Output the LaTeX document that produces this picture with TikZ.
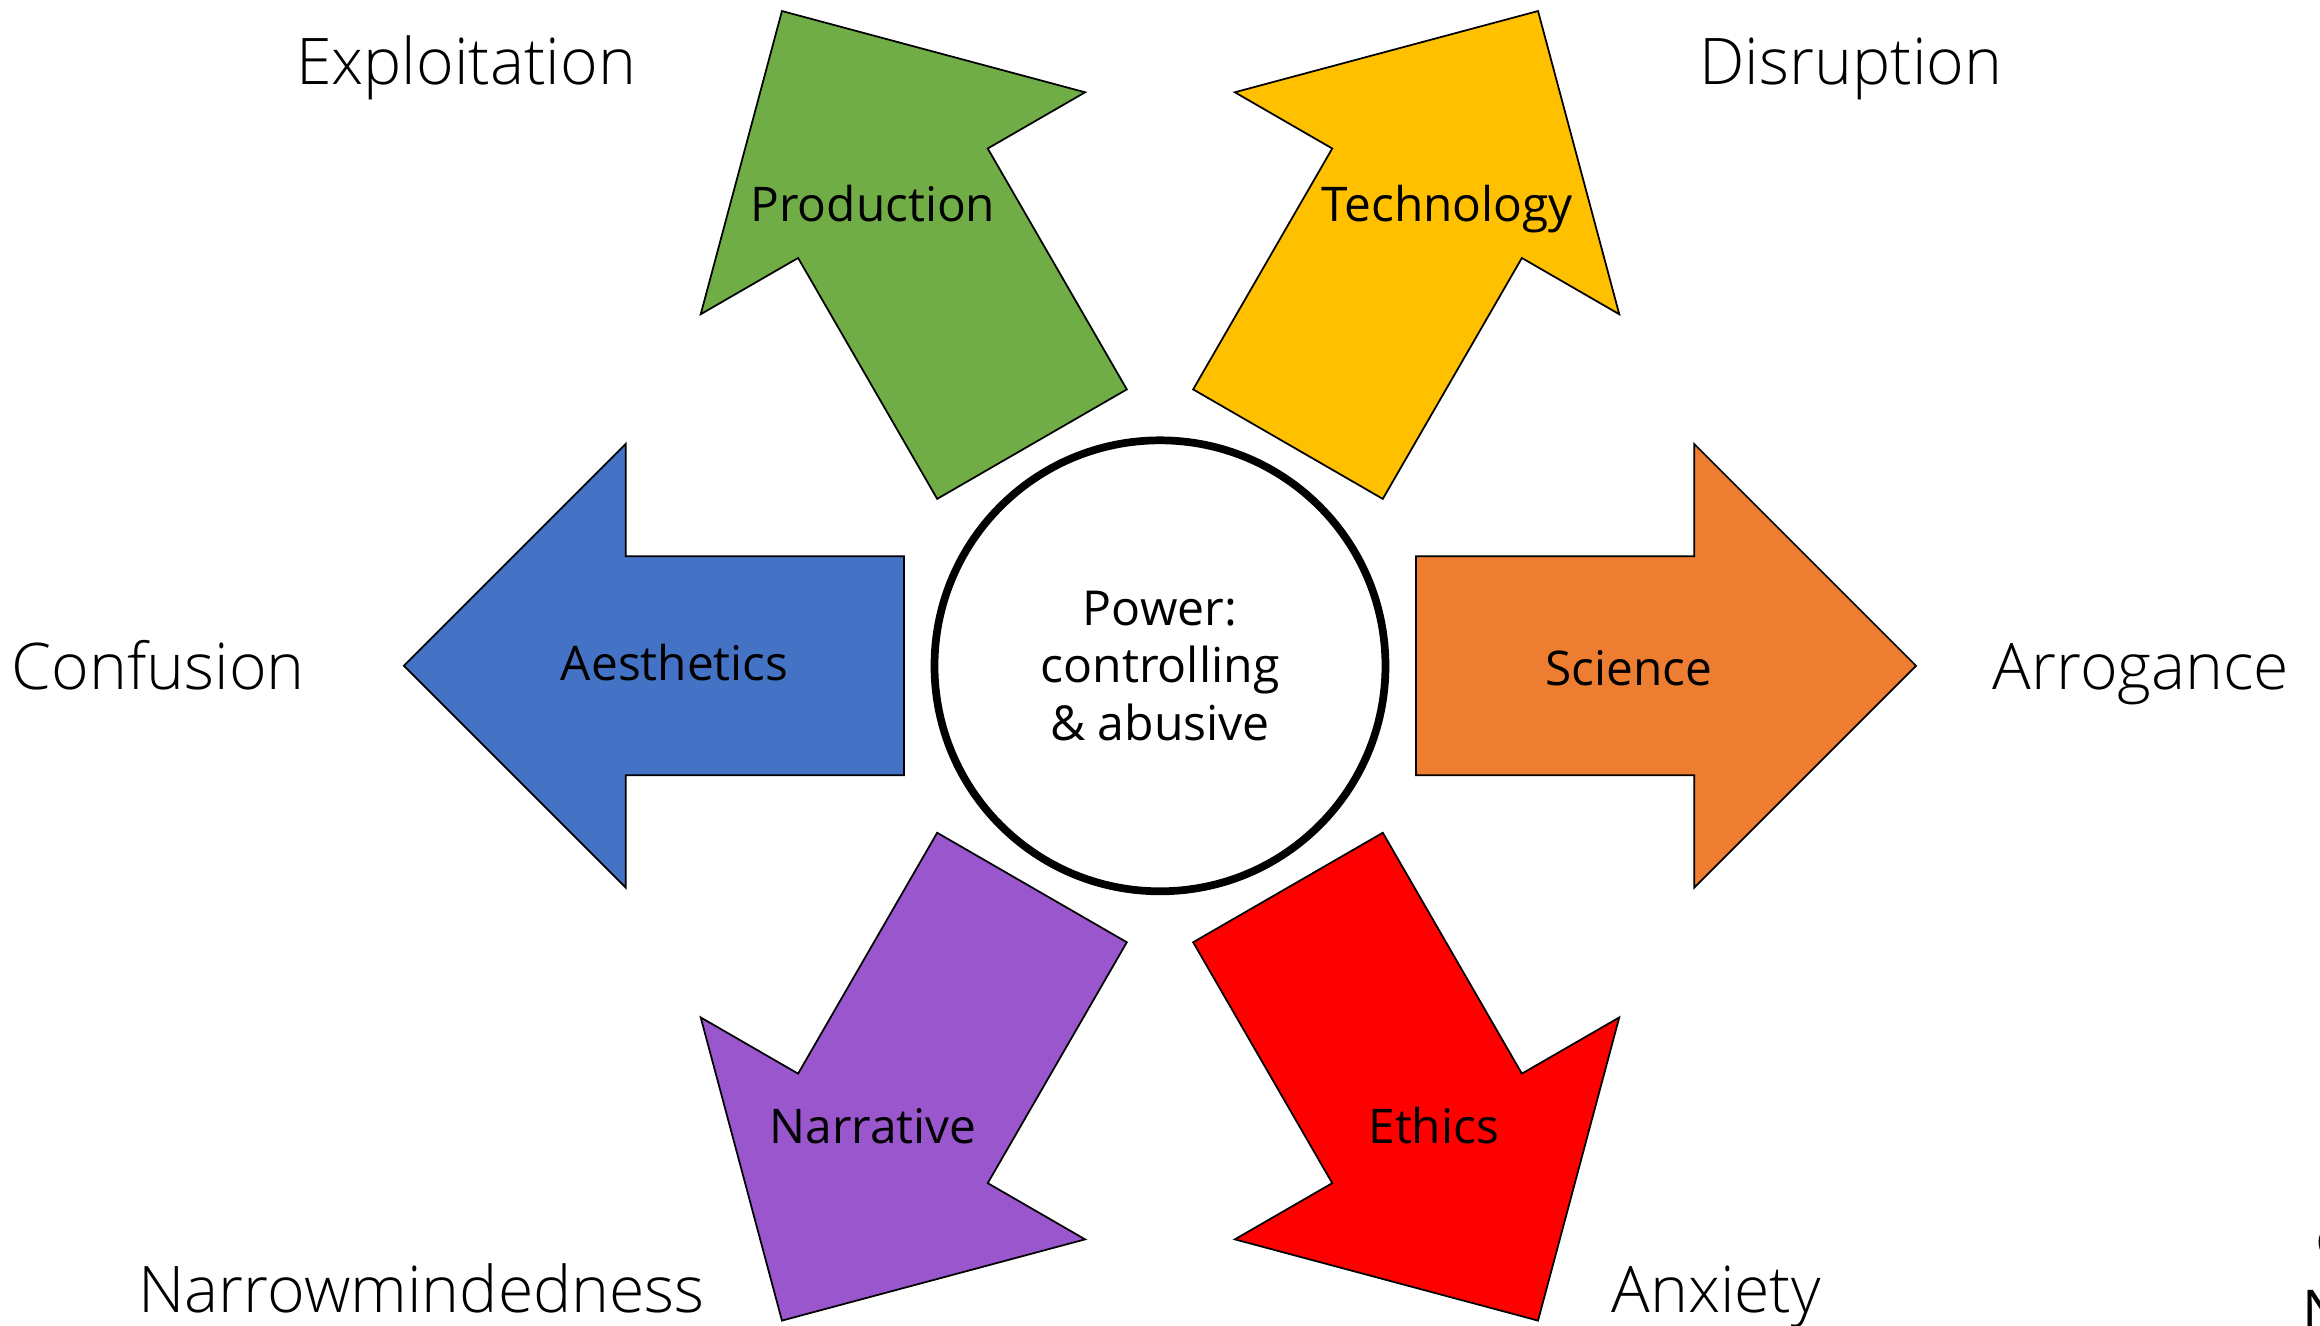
\documentclass[tikz,border=0pt]{standalone}
\usepackage{fontspec}
\setmainfont{Open Sans}
\newfontfamily\lightfont{Open Sans Light}
\usetikzlibrary{positioning}

\definecolor{sci-orange}{HTML}{ED7D31}
\definecolor{tech-gold}{HTML}{FFC000}
\definecolor{prod-green}{HTML}{70AD47}
\definecolor{aes-blue}{HTML}{4472C4}
\definecolor{narr-purple}{HTML}{9A57CD}
\definecolor{eth-red}{HTML}{FF0000}

\tikzset{
	big-arrow/.style={draw=black,line width=0.5pt,line join=miter},
	arrow-text/.style={font=\fontsize{13.6}{16.4}\selectfont,inner sep=0pt,anchor=base},
	outer-text/.style={font=\lightfont\fontsize{18.3}{22}\selectfont,inner sep=0pt,anchor=base},
}

\begin{document}
\begin{tikzpicture}[x=0.14796mm,y=0.14796mm]

	\useasboundingbox (-784,-446) rectangle (784,450);

	\coordinate (zero) at (0,0);

	%%%%%%%%%%%%%%%%%%%%%%%%%%%%%%%%%%%%%%%%%%%%%%%%%%%%%%

	\foreach \ang/\col in {0/sci-orange,60/tech-gold,120/prod-green,180/aes-blue,240/narr-purple,300/eth-red}
		\draw [big-arrow,fill=\col,rotate=\ang] (173,-74) -- (361,-74) -- (361,-150) -- (511,0)
			-- (361,150) -- (361,74) -- (173,74) -- cycle;

	\node [circle,draw,line width=2.2pt,fill=white,minimum size=45.1mm,inner sep=0pt,
		align=center,font=\fontsize{13.7}{16.4}\selectfont] (power) at (zero)
		{Power:\\controlling\\\&\ abusive};

	%%%%%%%%%%%%%%%%%%%%%%%%%%%%%%%%%%%%%%%%%%%%%%%%%%%%%%

	\node [arrow-text] (science) at (317,-13) {Science};
	\node [arrow-text] (technology) at (194,300) {Technology};
	\node [arrow-text] (production) at (-194,300) {Production};
	\node [arrow-text] (aesthetics) at (-328,-10) {Aesthetics};
	\node [arrow-text] (narrative) at (-194,-323) {Narrative};
	\node [arrow-text] (ethics) at (185,-323) {Ethics};

	%%%%%%%%%%%%%%%%%%%%%%%%%%%%%%%%%%%%%%%%%%%%%%%%%%%%%%

	\node [outer-text] (arrogance) at (663,-16) {Arrogance};
	\node [outer-text] (disruption) at (467,393) {Disruption};
	\node [outer-text] (exploitation) at (-469,393) {Exploitation};
	\node [outer-text] (confusion) at (-677,-16) {Confusion};
	\node [outer-text] (narrowmindedness) at (-499,-437) {Narrowmindedness};
	\node [outer-text] (anxiety) at (376,-437) {Anxiety};

	% cut off at the page edge
	\node [anchor=base west,inner sep=0pt,font=\fontsize{12}{14}\selectfont] (corner-c) at (781,-400) {C};
	\node [anchor=base west,inner sep=0pt,font=\fontsize{16}{19}\selectfont] (corner-n) at (772,-449) {N};

\end{tikzpicture}
\end{document}
